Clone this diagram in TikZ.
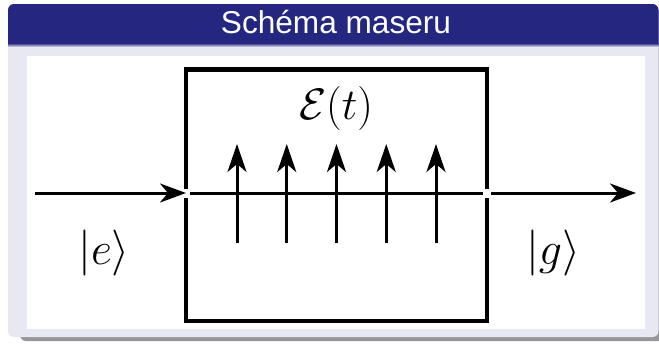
\RequirePackage{fix-cm}
\documentclass[tikz,border=0pt]{standalone}
\usepackage{fontspec}
\newfontfamily\titlefont{Liberation Sans}
\usepackage{tikz}
\usetikzlibrary{arrows.meta,positioning}
\definecolor{blocktitle}{RGB}{37,38,128}
\definecolor{blockbody}{RGB}{232,232,242}
\definecolor{blockshadow}{RGB}{150,150,155}

\begin{document}
\begin{tikzpicture}[x=1pt, y=-1pt,
  wall/.style={line width=4.5pt},
  beam/.style={line width=3pt},
  gap/.style={fill=white, inner sep=0pt, minimum width=8pt, minimum height=9pt},
  tip/.style={-{Stealth[length=26pt, width=19pt, inset=8pt]}},
  uptip/.style={-{Stealth[length=28pt, width=19pt, inset=8pt]}},
  state/.style={font=\fontsize{46}{46}\selectfont, anchor=base}]
  \useasboundingbox (0,0) rectangle (659,343);
  % Block with shadow
  \fill[blockshadow, rounded corners=6pt] (20,10) rectangle (666,341);
  \fill[blockbody, rounded corners=6pt] (8,4) rectangle (658.5,337);
  \fill[blocktitle] (8,43) [rounded corners=6pt] -- (8,4) -- (658.5,4) [sharp corners] -- (658.5,43) -- cycle;
  \shade[top color=blocktitle, bottom color=blockbody] (8,43) rectangle (658.5,47);
  \node[font=\titlefont\fontsize{31.6}{32}\selectfont, text=white, anchor=base] (title) at (336,33) {Schéma maseru};
  \fill[white] (27,56) rectangle (645,329);
  % Cavity
  \node[draw, wall, minimum width=301pt, minimum height=251.5pt, inner sep=0pt] (cavity) at (336.5,195.25) {};
  \node[gap] (inL) at (186,193) {};
  \node[gap] (outR) at (487,193) {};
  % Atom beam
  \coordinate (src) at (35,193);
  \coordinate (dst) at (636,193);
  \draw[beam, tip] (src) -- (inL.center);
  \draw[beam] (inL.east) -- (outR.west);
  \draw[beam, tip] (outR.east) -- (dst);
  % Field
  \foreach \i in {0,...,4}{
    \coordinate (low\i) at (237+49.75*\i, 243);
    \coordinate (high\i) at (237+49.75*\i, 144);
    \draw[beam, uptip] (low\i) -- (high\i);
  }
  \node[state, font=\fontsize{44}{44}\selectfont] (field) at (336,119.5) {$\mathcal{E}(t)$};
  \node[state] (ein) at (104,264) {$|e\rangle$};
  \node[state] (gout) at (553,264) {$|g\rangle$};
\end{tikzpicture}
\end{document}
